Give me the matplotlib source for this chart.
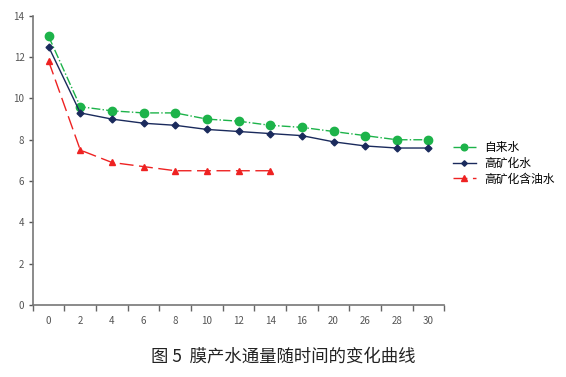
import numpy as np
import matplotlib.pyplot as plt
from matplotlib.ticker import FixedLocator

plt.rcParams['font.family'] = ['Noto Sans CJK SC', 'DejaVu Sans']

# time labels (categorical x axis)
hours = ["0", "2", "4", "6", "8", "10", "12", "14", "16", "20", "26", "28", "30"]
tap_water = [13.0, 9.6, 9.4, 9.3, 9.3, 9.0, 8.9, 8.7, 8.6, 8.4, 8.2, 8.0, 8.0]
high_min = [12.5, 9.3, 9.0, 8.8, 8.7, 8.5, 8.4, 8.3, 8.2, 7.9, 7.7, 7.6, 7.6]
oily = [11.8, 7.5, 6.9, 6.7, 6.5, 6.5, 6.5, 6.5]

fig = plt.figure(figsize=(5.66, 3.77), dpi=100)
ax = fig.add_axes([0.058, 0.191, 0.727, 0.767])

x = np.arange(len(hours))
ax.plot(x, tap_water, color="#1db34a", ls="-.", lw=1, marker="o", ms=6, label="自来水")
ax.plot(x, high_min, color="#1a2a5c", ls="-", lw=1, marker="D", ms=3.5, label="高矿化水")
ax.plot(x[:len(oily)], oily, color="#ee2222", ls=(0, (10, 4)), lw=1, marker="^", ms=5, label="高矿化含油水")

ax.set_xlim(-0.5, len(hours) - 0.5)
ax.set_ylim(0, 14)
ax.set_yticks(range(0, 15, 2))
ax.set_xticks(x)
ax.set_xticklabels(hours)
ax.xaxis.set_minor_locator(FixedLocator(np.arange(-0.5, len(hours), 1)))
ax.tick_params(axis="x", which="major", length=0, pad=8, labelsize=7, colors="#555555")
ax.tick_params(axis="x", which="minor", length=4, width=1, color="#666666")
ax.tick_params(axis="y", length=3, width=1, labelsize=7, colors="#555555", pad=3)

for s in ["top", "right"]:
    ax.spines[s].set_visible(False)
for s in ["left", "bottom"]:
    ax.spines[s].set_color("#777777")
    ax.spines[s].set_linewidth(1.2)

ax.legend(loc="upper left", bbox_to_anchor=(1.0, 0.595), frameon=False, fontsize=8.5,
          handlelength=2.0, labelspacing=0.22, handletextpad=0.7, borderpad=0.2,
          markerscale=0.8)

fig.text(0.5, 0.042, "图 5  膜产水通量随时间的变化曲线", ha="center", fontsize=12.5, color="#222222")

fig.savefig("out.png", dpi=100)
